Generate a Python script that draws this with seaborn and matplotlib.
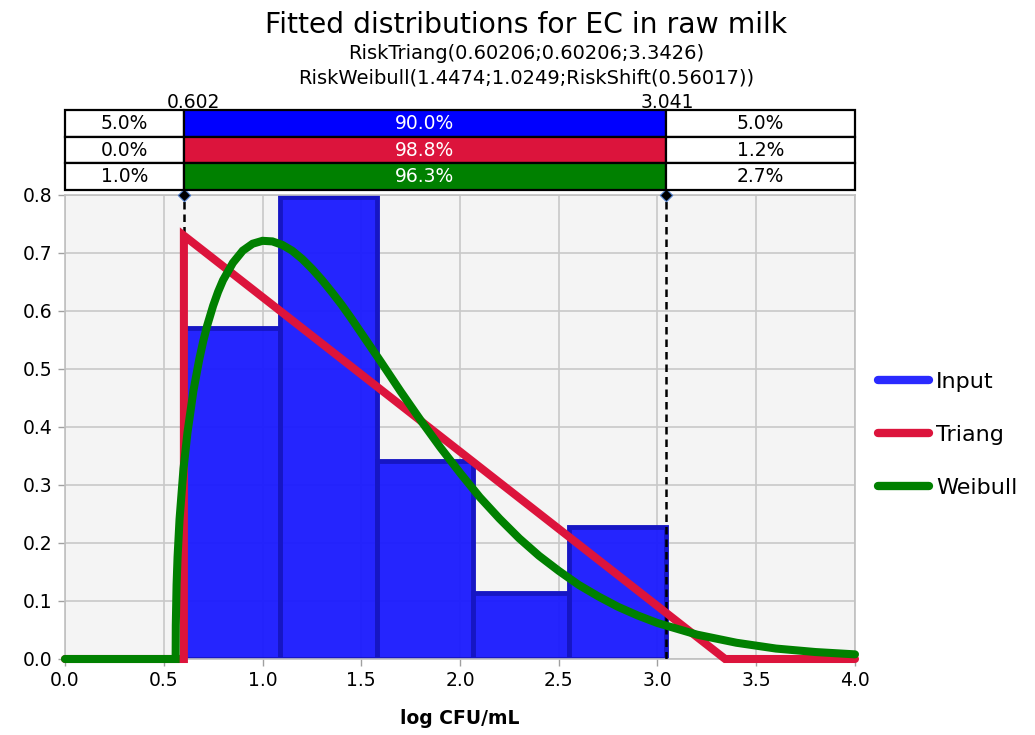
import matplotlib
matplotlib.use("Agg")
import matplotlib.pyplot as plt
from matplotlib.lines import Line2D
import seaborn as sns
import numpy as np

# ---------------- data ----------------
bin_edges = [0.602, 1.090, 1.578, 2.066, 2.553, 3.041]
bin_density = [0.570, 0.797, 0.342, 0.114, 0.228]

triang_x = [0.0, 0.602, 0.602, 3.3426, 4.0]
triang_y = [0.0, 0.0, 0.730, 0.0, 0.0]

weibull_x = [0.0, 0.5602, 0.561, 0.565, 0.57, 0.58, 0.60, 0.62, 0.65, 0.68, 0.70, 0.72,
             0.75, 0.775, 0.80, 0.85, 0.90, 0.95, 1.00, 1.05, 1.10, 1.15, 1.20, 1.25,
             1.30, 1.35, 1.40, 1.45, 1.50, 1.55, 1.60, 1.70, 1.80, 1.90, 2.00, 2.10,
             2.20, 2.30, 2.40, 2.50, 2.60, 2.70, 2.80, 2.90, 3.00, 3.20, 3.40, 3.60,
             3.80, 4.00]
weibull_y = [0.0, 0.0, 0.058, 0.128, 0.176, 0.241, 0.328, 0.390, 0.462, 0.517, 0.548, 0.575,
             0.609, 0.633, 0.653, 0.683, 0.704, 0.716, 0.721, 0.720, 0.714, 0.704, 0.690, 0.673,
             0.654, 0.633, 0.611, 0.587, 0.562, 0.537, 0.512, 0.461, 0.412, 0.365, 0.321, 0.279,
             0.242, 0.208, 0.178, 0.152, 0.128, 0.108, 0.090, 0.075, 0.062, 0.042, 0.028, 0.018,
             0.012, 0.008]

marker_x = [0.602, 3.041]
band_labels = ["0.602", "3.041"]
series_names = ["Input", "Triang", "Weibull"]
band_left = ["5.0%", "0.0%", "1.0%"]
band_mid = ["90.0%", "98.8%", "96.3%"]
band_right = ["5.0%", "1.2%", "2.7%"]

title = "Fitted distributions for EC in raw milk"
subtitle1 = "RiskTriang(0.60206;0.60206;3.3426)"
subtitle2 = "RiskWeibull(1.4474;1.0249;RiskShift(0.56017))"
xlabel = "log CFU/mL"

# ---------------- style ----------------
sns.set_theme(style="white")
plt.rcParams['font.family'] = ['DejaVu Sans']
plt.rcParams['text.color'] = 'black'
plt.rcParams['axes.labelcolor'] = 'black'
plt.rcParams['xtick.color'] = 'black'
plt.rcParams['ytick.color'] = 'black'

BLUE = "#0000ff"
BAR = "#1a1aff"
BAR_EDGE = "#1616c4"
RED = "#dc143c"
GREEN = "#008000"

W, H = 1035, 735
fig = plt.figure(figsize=(W / 100, H / 100), dpi=100)
fig.patch.set_facecolor("white")

ax = fig.add_axes([65 / W, 76 / H, 790 / W, 464 / H])
ax.set_facecolor("#f4f4f4")

centers = [(bin_edges[i] + bin_edges[i + 1]) / 2 for i in range(len(bin_density))]
sns.histplot(x=centers, weights=bin_density, bins=bin_edges, stat="count",
             color=BAR, alpha=0.95, edgecolor=BAR_EDGE, linewidth=3.5, ax=ax, zorder=2)

# dashed markers
for mx in marker_x:
    ax.axvline(mx, color="black", lw=1.8, ls=(0, (3, 2)), zorder=3)
ax.scatter(marker_x, [0.8, 0.8], marker="D", s=40, color="black",
           edgecolor="#4a7ac8", linewidth=0.8, zorder=6, clip_on=False)

sns.lineplot(x=triang_x, y=triang_y, sort=False, estimator=None, color=RED,
             lw=5.8, ax=ax, zorder=4, clip_on=False)
sns.lineplot(x=weibull_x, y=weibull_y, sort=False, estimator=None, color=GREEN,
             lw=5.8, ax=ax, zorder=5, clip_on=False)
for ln in ax.lines:
    ln.set_solid_joinstyle("miter")

ax.set_xlim(0, 4)
ax.set_ylim(0, 0.8)
xt = np.arange(0, 4.01, 0.5)
yt = np.arange(0, 0.801, 0.1)
ax.set_xticks(xt)
ax.set_yticks(yt)
ax.set_xticklabels([f"{v:.1f}" for v in xt])
ax.set_yticklabels([f"{v:.1f}" for v in yt])
ax.tick_params(axis="both", which="both", labelsize=13.5, colors="#a0a0a0",
               labelcolor="black", length=5, width=1, direction="out",
               left=True, bottom=True, pad=4)
ax.grid(True, color="#c8c8c8", lw=1.2)
ax.set_axisbelow(True)
for s in ax.spines.values():
    s.set_color("#c0c0c0")
    s.set_linewidth(1.2)
ax.set_ylabel("")
ax.set_xlabel(xlabel, fontsize=13.5, fontweight="bold", labelpad=13, color="black")

# ---------------- band on top ----------------
band = fig.add_axes([65 / W, 545 / H, 790 / W, 80 / H])
band.set_xlim(0, 4)
band.set_ylim(0, 3)
band.axis("off")
mid_colors = [BLUE, RED, GREEN]
lefts = [0.0, marker_x[0], marker_x[1]]
widths = [marker_x[0], marker_x[1] - marker_x[0], 4.0 - marker_x[1]]
for i in range(3):
    yc = 2.5 - i
    band.barh([yc] * 3, widths, left=lefts, height=1.0,
              color=["white", mid_colors[i], "white"], edgecolor="black",
              linewidth=1.6, clip_on=False)
    band.text(marker_x[0] / 2, yc, band_left[i], ha="center", va="center",
              fontsize=13.5, color="black")
    band.text((marker_x[0] + marker_x[1]) / 2, yc, band_mid[i], ha="center",
              va="center", fontsize=13.5, color="white")
    band.text((marker_x[1] + 4.0) / 2, yc, band_right[i], ha="center",
              va="center", fontsize=13.5, color="black")
label_shift = [7, 1]
for mx, lab, dx in zip(marker_x, band_labels, label_shift):
    band.annotate(lab, (mx, 3.0), xytext=(dx, -1.5), textcoords="offset points",
                  ha="center", va="bottom", fontsize=13.5, color="black",
                  annotation_clip=False, zorder=0)

# ---------------- titles ----------------
fig.text(526 / W, 1 - 33 / H, title, ha="center", va="baseline", fontsize=20.3)
fig.text(526 / W, 1 - 59 / H, subtitle1, ha="center", va="baseline", fontsize=14)
fig.text(526 / W, 1 - 84 / H, subtitle2, ha="center", va="baseline", fontsize=14)

# ---------------- legend ----------------
handles = [Line2D([0], [0], color=c, lw=6, solid_capstyle="round")
           for c in ["#2a2aff", RED, GREEN]]
fig.legend(handles, series_names, loc="center left",
           bbox_to_anchor=(878 / W, 1 - 435 / H), frameon=False,
           fontsize=16, handlelength=2.3, handletextpad=0.3,
           labelspacing=1.48, borderpad=0, borderaxespad=0)

fig.savefig("out.png", dpi=100)
